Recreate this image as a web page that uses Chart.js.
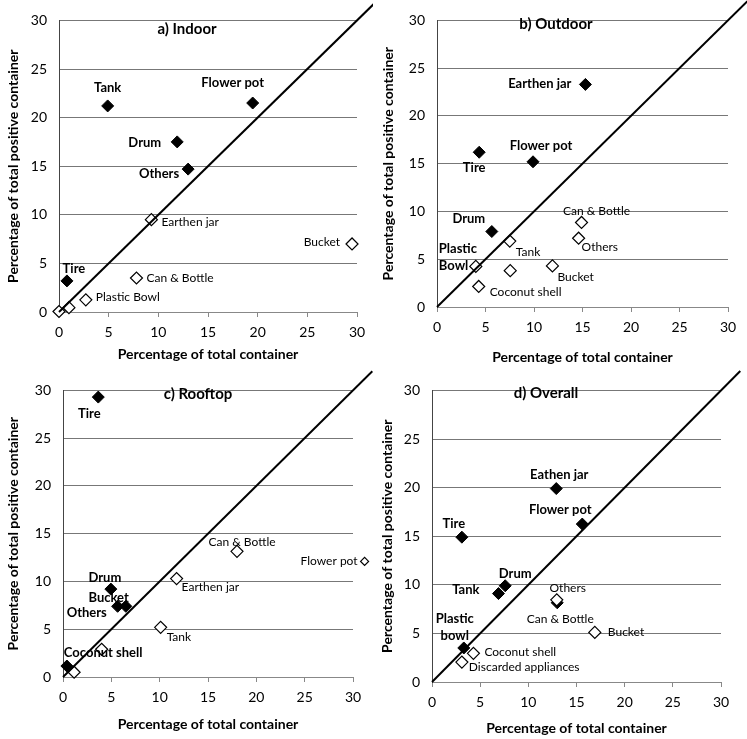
<!DOCTYPE html>
<html>
<head>
<meta charset="utf-8">
<script src="https://cdn.jsdelivr.net/npm/chart.js@4.4.0/dist/chart.umd.min.js"></script>
<style>
body { margin: 0; background: #fff; }
#wrap { position: relative; width: 747px; height: 739px; }
canvas { position: absolute; }
</style>
</head>
<body>
<div id="wrap">
  <canvas id="indoorChart" width="373" height="370" style="left:0px;top:0px"></canvas>
  <canvas id="outdoorChart" width="374" height="370" style="left:373px;top:0px"></canvas>
  <canvas id="rooftopChart" width="373" height="369" style="left:0px;top:370px"></canvas>
  <canvas id="overallChart" width="374" height="369" style="left:373px;top:370px"></canvas>
</div>
<script>
// Shared axis values
const tickValues = [0, 5, 10, 15, 20, 25, 30];
const equalityLine = [0, 32];
const xTitle = 'Percentage of total container';
const yTitle = 'Percentage of total positive container';

// a) Indoor
const indoorFilledNames = ['Tank', 'Flower pot', 'Drum', 'Others', 'Tire'];
const indoorFilledX = [4.9, 19.5, 11.9, 13.0, 0.8];
const indoorFilledY = [21.2, 21.5, 17.5, 14.7, 3.2];
const indoorOpenNames = ['Earthen jar', 'Bucket', 'Can & Bottle', 'Plastic Bowl', '', ''];
const indoorOpenX = [9.3, 29.5, 7.8, 2.7, 1.0, 0.0];
const indoorOpenY = [9.5, 7.0, 3.5, 1.25, 0.45, 0.05];

// b) Outdoor
const outdoorFilledNames = ['Earthen jar', 'Tire', 'Flower pot', 'Drum'];
const outdoorFilledX = [15.3, 4.35, 9.9, 5.65];
const outdoorFilledY = [23.3, 16.2, 15.2, 7.9];
const outdoorOpenNames = ['Can & Bottle', 'Others', 'Tank', 'Plastic\nBowl', 'Bucket', '', 'Coconut shell'];
const outdoorOpenX = [14.9, 14.6, 7.5, 4.0, 11.9, 7.55, 4.3];
const outdoorOpenY = [8.85, 7.2, 6.9, 4.25, 4.3, 3.8, 2.15];

// c) Rooftop
const rooftopFilledNames = ['Tire', 'Drum', 'Bucket', 'Others', 'Coconut shell'];
const rooftopFilledX = [3.65, 4.95, 5.65, 6.5, 0.4];
const rooftopFilledY = [29.3, 9.2, 7.4, 7.4, 1.15];
const rooftopOpenNames = ['Can & Bottle', 'Flower pot', 'Earthen jar', 'Tank', '', ''];
const rooftopOpenX = [18.0, 31.2, 11.75, 10.1, 4.0, 1.15];
const rooftopOpenY = [13.15, 12.1, 10.3, 5.2, 2.9, 0.5];

// d) Overall
const overallFilledNames = ['Eathen jar', 'Flower pot', 'Tire', 'Drum', 'Tank', 'Plastic\nbowl', 'Can & Bottle'];
const overallFilledX = [12.9, 15.6, 3.1, 7.6, 6.9, 3.3, 13.0];
const overallFilledY = [19.9, 16.25, 14.9, 9.9, 9.1, 3.5, 8.15];
const overallOpenNames = ['Others', 'Bucket', 'Coconut shell', 'Discarded appliances'];
const overallOpenX = [12.95, 16.9, 4.3, 3.1];
const overallOpenY = [8.45, 5.1, 2.95, 2.05];

const FONT = 'Lato';

// label placement: [dx, dy, align, weight]
const panels = [
  {
    id: 'indoorChart', title: 'a) Indoor', titlePos: [187, 29],
    yW: 59, padRight: 16, padTop: 15, yTitleX: 13, xTitleBelow: 42, below: 58,
    filled: [indoorFilledNames, indoorFilledX, indoorFilledY],
    open: [indoorOpenNames, indoorOpenX, indoorOpenY],
    filledPlaces: [[0, -18, 'center', 'bold'], [-20, -20, 'center', 'bold'], [-16, 1, 'right', 'bold'], [-9, 5, 'right', 'bold'], [7, -12, 'center', 'bold']],
    openPlaces: [[10, 2, 'left'], [-12, -2, 'right'], [10, 0, 'left'], [10, -3, 'left'], null, null]
  },
  {
    id: 'outdoorChart', title: 'b) Outdoor', titlePos: [183, 24],
    yW: 64, padRight: 19, padTop: 14, yTitleX: 15, xTitleBelow: 50, below: 63,
    filled: [outdoorFilledNames, outdoorFilledX, outdoorFilledY],
    open: [outdoorOpenNames, outdoorOpenX, outdoorOpenY],
    filledPlaces: [[-14, -1, 'right', 'bold'], [-5, 16, 'center', 'bold'], [8, -16, 'center', 'bold'], [-23, -13, 'center', 'bold']],
    openPlaces: [[15, -11, 'center'], [3, 9, 'left'], [6, 11, 'left'], [-37, -18, 'left', 'bold'], [5, 11, 'left'], null, [11, 6, 'left']]
  },
  {
    id: 'rooftopChart', title: 'c) Rooftop', titlePos: [198, 24],
    yW: 63, padRight: 20, padTop: 14, yTitleX: 13, xTitleBelow: 47, below: 62,
    filled: [rooftopFilledNames, rooftopFilledX, rooftopFilledY],
    open: [rooftopOpenNames, rooftopOpenX, rooftopOpenY],
    filledPlaces: [[-9, 17, 'center', 'bold'], [-6, -11, 'center', 'bold'], [-9, -8, 'center', 'bold'], [-19, 7, 'right', 'bold'], [-3, -13, 'left', 'bold']],
    openPlaces: [[5, -9, 'center'], [-7, 0, 'right'], [5, 9, 'left'], [6, 10, 'left'], null, null]
  },
  {
    id: 'overallChart', title: 'd) Overall', titlePos: [173, 23],
    yW: 59, padRight: 26, padTop: 12, yTitleX: 14, xTitleBelow: 46, below: 57,
    filled: [overallFilledNames, overallFilledX, overallFilledY],
    open: [overallOpenNames, overallOpenX, overallOpenY],
    filledPlaces: [[3, -14, 'center', 'bold'], [-22, -14, 'center', 'bold'], [-8, -13, 'center', 'bold'], [10, -12, 'center', 'bold'], [-19, -4, 'right', 'bold'], [-9, -29, 'center', 'bold'], [3, 16, 'center']],
    openPlaces: [[11, -12, 'center'], [13, 0, 'left'], [11, -1, 'left'], [7, 5, 'left']]
  }
];

const pointLabels = {
  id: 'pointLabels',
  afterDatasetsDraw(chart, args, opts) {
    const ctx = chart.ctx;
    const area = chart.chartArea;
    ctx.save();
    // points that lie past the x axis end are skipped by Chart.js; draw those elements here
    chart.data.datasets.forEach((ds, i) => {
      if (!ds.names) return;
      chart.getDatasetMeta(i).data.forEach(pt => {
        if (pt.x > area.right) pt.draw(ctx);
      });
    });
    ctx.fillStyle = '#000';
    ctx.textBaseline = 'middle';
    chart.data.datasets.forEach((ds, i) => {
      if (!ds.names) return;
      chart.getDatasetMeta(i).data.forEach((pt, j) => {
        const place = ds.places[j];
        if (!place || !ds.names[j]) return;
        const [dx, dy, align, weight] = place;
        ctx.font = weight === 'bold' ? `bold 13px ${FONT}` : `12px ${FONT}`;
        ctx.textAlign = align;
        ds.names[j].split('\n').forEach((line, k) => {
          ctx.fillText(line, pt.x + dx, pt.y + dy + k * 17);
        });
      });
    });
    ctx.font = `bold 15px ${FONT}`;
    ctx.textAlign = 'center';
    ctx.fillText(opts.text, opts.pos[0], opts.pos[1]);
    ctx.restore();
  }
};

function toPoints(xs, ys) {
  return xs.map((x, i) => ({ x: x, y: ys[i] }));
}

panels.forEach(p => {
  const xH = p.xTitleBelow + 8.4;
  const canvas = document.getElementById(p.id);
  new Chart(canvas.getContext('2d'), {
    type: 'scatter',
    data: {
      datasets: [
        {
          data: equalityLine.map(v => ({ x: v, y: v })),
          type: 'line',
          showLine: true,
          borderColor: '#000',
          borderWidth: 2,
          pointRadius: 0,
          clip: false,
          order: 0
        },
        {
          data: toPoints(p.open[1], p.open[2]),
          names: p.open[0],
          places: p.openPlaces,
          pointStyle: 'rectRot',
          pointRadius: c => (c.raw && c.raw.x > 30 ? 4 : 6),
          backgroundColor: '#fff',
          borderColor: '#000',
          borderWidth: 1.2,
          clip: false,
          order: 1
        },
        {
          data: toPoints(p.filled[1], p.filled[2]),
          names: p.filled[0],
          places: p.filledPlaces,
          pointStyle: 'rectRot',
          pointRadius: 6,
          backgroundColor: '#000',
          borderColor: '#000',
          borderWidth: 1,
          clip: false,
          order: 2
        }
      ]
    },
    options: {
      responsive: false,
      animation: false,
      layout: { padding: { left: 0, top: p.padTop, right: p.padRight, bottom: p.below - xH } },
      plugins: {
        legend: { display: false },
        tooltip: { enabled: false },
        pointLabels: { text: p.title, pos: p.titlePos }
      },
      scales: {
        x: {
          type: 'linear',
          min: 0,
          max: 30,
          afterBuildTicks: s => { s.ticks = tickValues.map(v => ({ value: v })); },
          afterFit: s => { s.height = xH; },
          grid: { drawOnChartArea: false, drawTicks: true, tickLength: 5, color: '#888' },
          border: { color: '#888', width: 1 },
          ticks: { font: { family: FONT, size: 14 }, color: '#000', padding: 7, maxRotation: 0 },
          title: { display: true, text: xTitle, font: { family: FONT, size: 14, weight: 'bold' }, color: '#000', padding: 0 }
        },
        y: {
          type: 'linear',
          min: 0,
          max: 30,
          afterBuildTicks: s => { s.ticks = tickValues.map(v => ({ value: v })); },
          afterFit: s => { s.width = p.yW; },
          grid: { drawTicks: false, color: '#777' },
          border: { color: '#444', width: 1 },
          ticks: { font: { family: FONT, size: 14 }, color: '#000', padding: 12 },
          title: { display: true, text: yTitle, font: { family: FONT, size: 14, weight: 'bold' }, color: '#000', padding: { top: p.yTitleX - 8.4, bottom: 0 } }
        }
      }
    },
    plugins: [pointLabels]
  });
});
</script>
</body>
</html>
